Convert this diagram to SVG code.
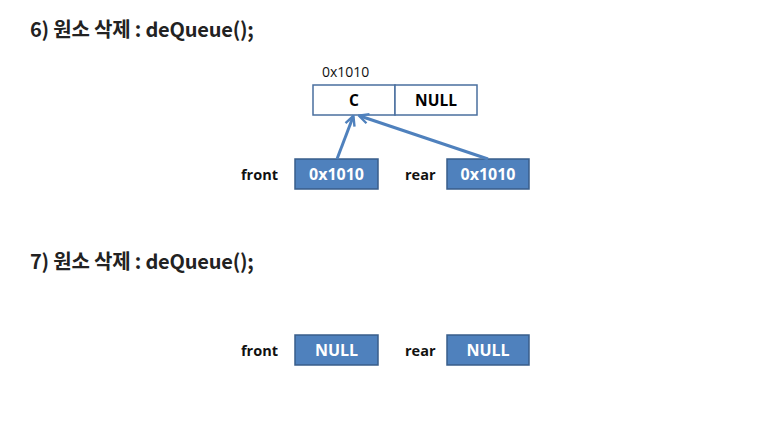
<svg xmlns="http://www.w3.org/2000/svg" width="771" height="443" viewBox="0 0 771 443">
<style>
.t{font-family:"Noto Sans CJK KR","Noto Sans",sans-serif;font-weight:bold;font-size:20px;fill:#222;letter-spacing:-0.2px}
.lbl{font-family:"Open Sans","Noto Sans",sans-serif;font-weight:bold;font-size:14.5px;fill:#111}
.bl{fill:#4F81BD;stroke:#385D8A;stroke-width:1.5}
.bt{font-family:"Open Sans","Noto Sans",sans-serif;font-weight:bold;font-size:16px;fill:#fff;text-anchor:middle}
.wn{fill:#fff;stroke:#4A6F9E;stroke-width:1.5}
.wt{font-family:"Open Sans","Noto Sans",sans-serif;font-weight:bold;font-size:15.5px;fill:#000;text-anchor:middle}
.addr{font-family:"Open Sans","Noto Sans",sans-serif;font-size:14px;fill:#111}
.ar{stroke:#4F81BD;stroke-width:3;fill:none;marker-end:url(#ah)}
</style>
<defs>
<marker id="ah" viewBox="0 0 10 10" refX="8" refY="5" markerWidth="4" markerHeight="4" orient="auto" markerUnits="strokeWidth">
<path d="M1,1 L9,5 L1,9" fill="none" stroke="#4F81BD" stroke-width="2"/>
</marker>
</defs>
<rect width="771" height="443" fill="#fff"/>
<text class="t" x="30" y="37">6) 원소 삭제 : deQueue();</text>
<text class="t" x="30" y="269">7) 원소 삭제 : deQueue();</text>
<g id="nodeC">
<text class="addr" x="322" y="77">0x1010</text>
<rect class="wn" x="313" y="85" width="82" height="30"/>
<rect class="wn" x="395" y="85" width="82" height="30"/>
<text class="wt" x="354" y="106">C</text>
<text class="wt" x="436" y="106">NULL</text>
</g>
<g id="front6">
<text class="lbl" x="241" y="180">front</text>
<rect class="bl" x="295" y="159" width="83" height="30"/>
<text class="bt" x="336.5" y="180">0x1010</text>
</g>
<g id="rear6">
<text class="lbl" x="405" y="180">rear</text>
<rect class="bl" x="447" y="159" width="82" height="30"/>
<text class="bt" x="488" y="180">0x1010</text>
</g>
<g id="connectors">
<line class="ar" x1="337" y1="159" x2="353" y2="117"/>
<line class="ar" x1="488" y1="159" x2="360" y2="116"/>
</g>
<g id="front7">
<text class="lbl" x="241" y="356">front</text>
<rect class="bl" x="295" y="335" width="83" height="30"/>
<text class="bt" x="336.5" y="356">NULL</text>
</g>
<g id="rear7">
<text class="lbl" x="405" y="356">rear</text>
<rect class="bl" x="447" y="335" width="82" height="30"/>
<text class="bt" x="488" y="356">NULL</text>
</g>
</svg>
